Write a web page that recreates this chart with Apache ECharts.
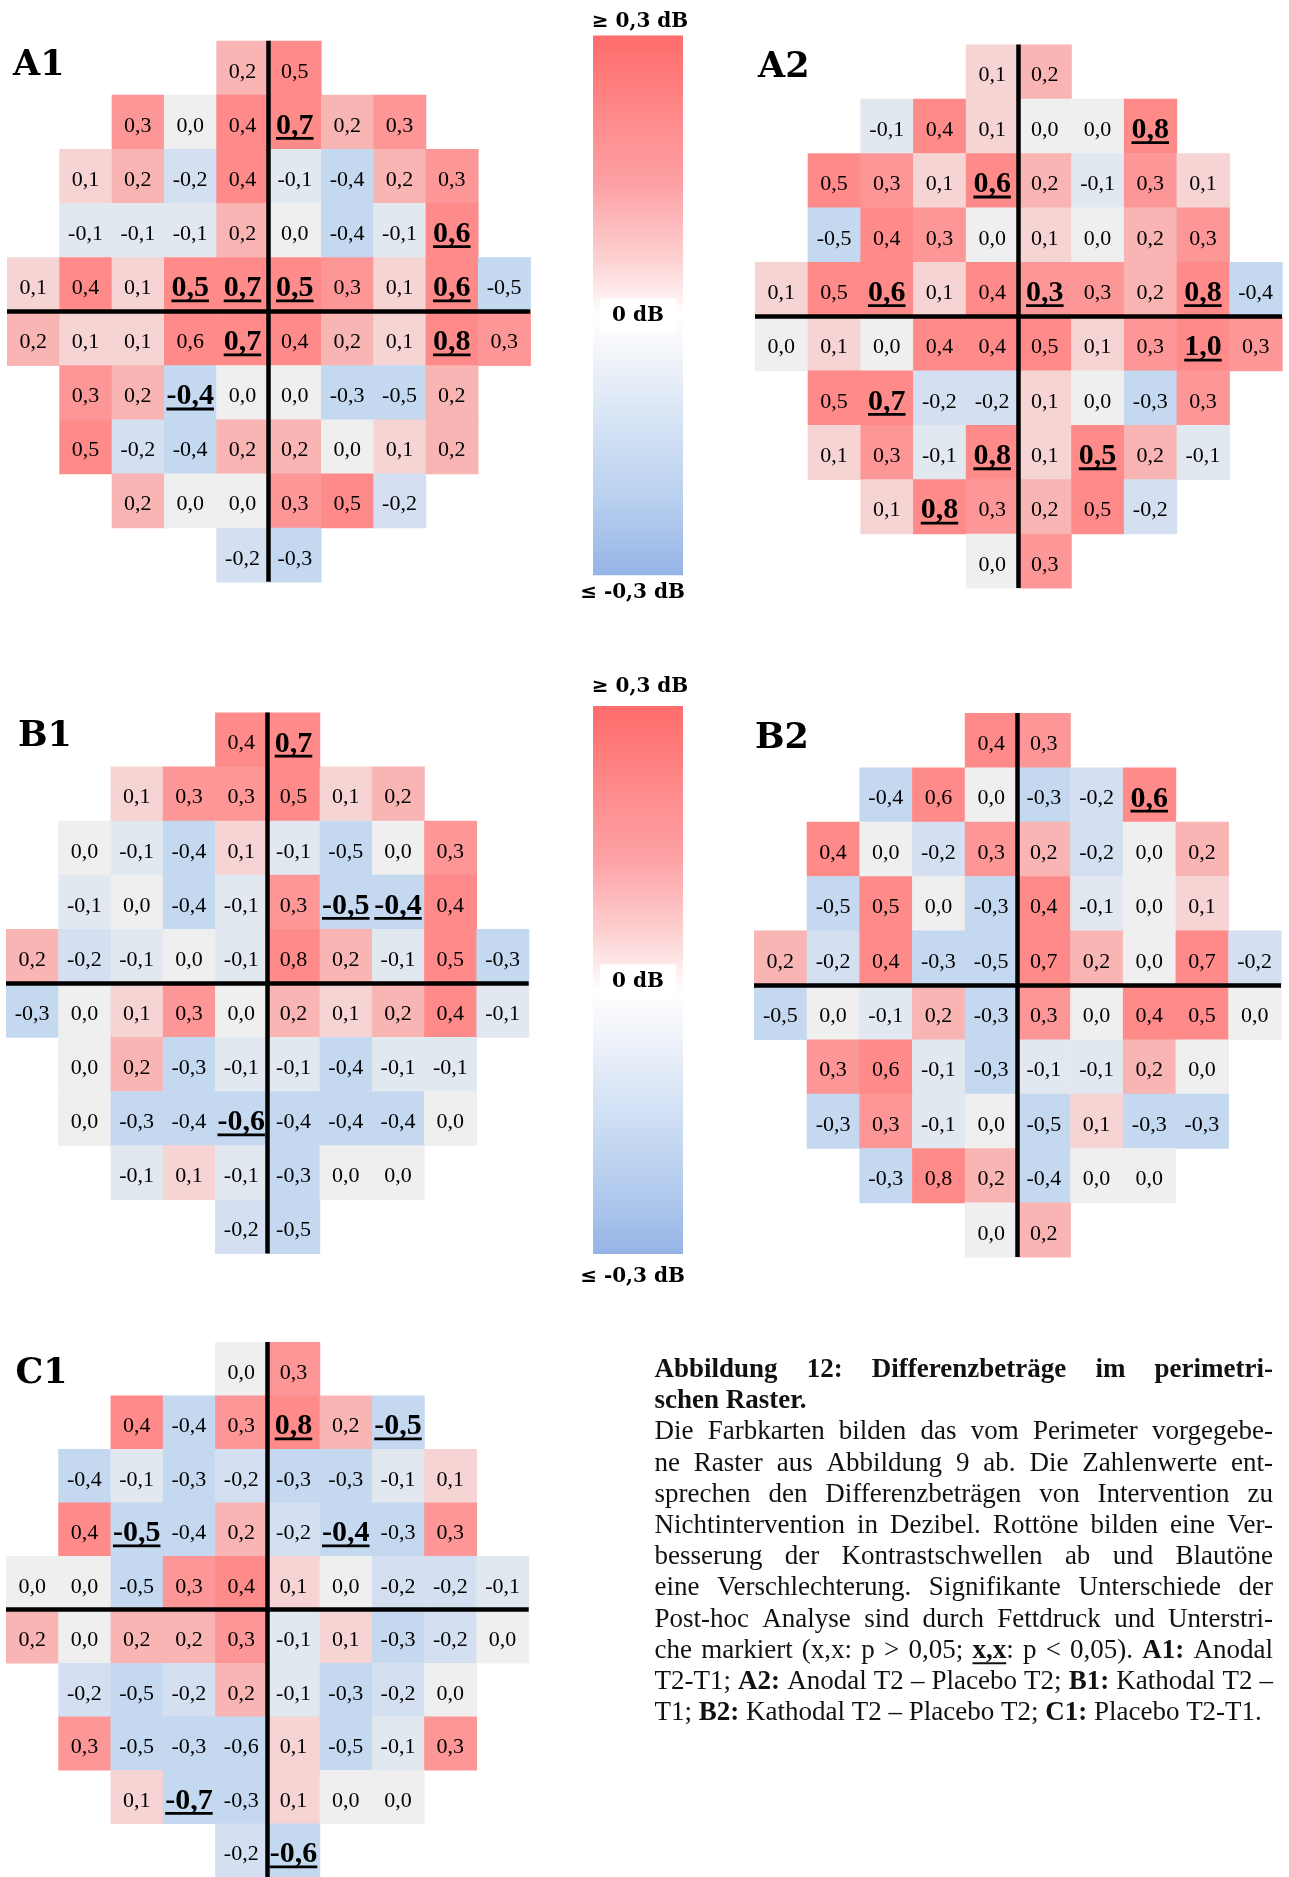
<!DOCTYPE html>
<html><head><meta charset="utf-8">
<script src="https://cdn.jsdelivr.net/npm/echarts@6/dist/echarts.min.js"></script>
<style>html,body{margin:0;padding:0;background:#fff}#main{width:1289px;height:1877px}</style>
</head><body><div id="main"></div>
<script>
// ---- grid shape: first column of each of the 10 rows of the perimetric raster
const rowStart = [4, 2, 1, 1, 0, 0, 1, 1, 2, 4];

// ---- values (dB), row by row, left to right
const A1 = [
  [0.2, 0.5],
  [0.3, 0.0, 0.4, 0.7, 0.2, 0.3],
  [0.1, 0.2, -0.2, 0.4, -0.1, -0.4, 0.2, 0.3],
  [-0.1, -0.1, -0.1, 0.2, 0.0, -0.4, -0.1, 0.6],
  [0.1, 0.4, 0.1, 0.5, 0.7, 0.5, 0.3, 0.1, 0.6, -0.5],
  [0.2, 0.1, 0.1, 0.6, 0.7, 0.4, 0.2, 0.1, 0.8, 0.3],
  [0.3, 0.2, -0.4, 0.0, 0.0, -0.3, -0.5, 0.2],
  [0.5, -0.2, -0.4, 0.2, 0.2, 0.0, 0.1, 0.2],
  [0.2, 0.0, 0.0, 0.3, 0.5, -0.2],
  [-0.2, -0.3]
];
const A2 = [
  [0.1, 0.2],
  [-0.1, 0.4, 0.1, 0.0, 0.0, 0.8],
  [0.5, 0.3, 0.1, 0.6, 0.2, -0.1, 0.3, 0.1],
  [-0.5, 0.4, 0.3, 0.0, 0.1, 0.0, 0.2, 0.3],
  [0.1, 0.5, 0.6, 0.1, 0.4, 0.3, 0.3, 0.2, 0.8, -0.4],
  [0.0, 0.1, 0.0, 0.4, 0.4, 0.5, 0.1, 0.3, 1.0, 0.3],
  [0.5, 0.7, -0.2, -0.2, 0.1, 0.0, -0.3, 0.3],
  [0.1, 0.3, -0.1, 0.8, 0.1, 0.5, 0.2, -0.1],
  [0.1, 0.8, 0.3, 0.2, 0.5, -0.2],
  [0.0, 0.3]
];
const B1 = [
  [0.4, 0.7],
  [0.1, 0.3, 0.3, 0.5, 0.1, 0.2],
  [0.0, -0.1, -0.4, 0.1, -0.1, -0.5, 0.0, 0.3],
  [-0.1, 0.0, -0.4, -0.1, 0.3, -0.5, -0.4, 0.4],
  [0.2, -0.2, -0.1, 0.0, -0.1, 0.8, 0.2, -0.1, 0.5, -0.3],
  [-0.3, 0.0, 0.1, 0.3, 0.0, 0.2, 0.1, 0.2, 0.4, -0.1],
  [0.0, 0.2, -0.3, -0.1, -0.1, -0.4, -0.1, -0.1],
  [0.0, -0.3, -0.4, -0.6, -0.4, -0.4, -0.4, 0.0],
  [-0.1, 0.1, -0.1, -0.3, 0.0, 0.0],
  [-0.2, -0.5]
];
const B2 = [
  [0.4, 0.3],
  [-0.4, 0.6, 0.0, -0.3, -0.2, 0.6],
  [0.4, 0.0, -0.2, 0.3, 0.2, -0.2, 0.0, 0.2],
  [-0.5, 0.5, 0.0, -0.3, 0.4, -0.1, 0.0, 0.1],
  [0.2, -0.2, 0.4, -0.3, -0.5, 0.7, 0.2, 0.0, 0.7, -0.2],
  [-0.5, 0.0, -0.1, 0.2, -0.3, 0.3, 0.0, 0.4, 0.5, 0.0],
  [0.3, 0.6, -0.1, -0.3, -0.1, -0.1, 0.2, 0.0],
  [-0.3, 0.3, -0.1, 0.0, -0.5, 0.1, -0.3, -0.3],
  [-0.3, 0.8, 0.2, -0.4, 0.0, 0.0],
  [0.0, 0.2]
];
const C1 = [
  [0.0, 0.3],
  [0.4, -0.4, 0.3, 0.8, 0.2, -0.5],
  [-0.4, -0.1, -0.3, -0.2, -0.3, -0.3, -0.1, 0.1],
  [0.4, -0.5, -0.4, 0.2, -0.2, -0.4, -0.3, 0.3],
  [0.0, 0.0, -0.5, 0.3, 0.4, 0.1, 0.0, -0.2, -0.2, -0.1],
  [0.2, 0.0, 0.2, 0.2, 0.3, -0.1, 0.1, -0.3, -0.2, 0.0],
  [-0.2, -0.5, -0.2, 0.2, -0.1, -0.3, -0.2, 0.0],
  [0.3, -0.5, -0.3, -0.6, 0.1, -0.5, -0.1, 0.3],
  [0.1, -0.7, -0.3, 0.1, 0.0, 0.0],
  [-0.2, -0.6]
];

// ---- significant cells (p < 0,05), as [row, column]
const A1_sig = [[1,5],[3,8],[4,3],[4,4],[4,5],[4,8],[5,4],[5,8],[6,3]];
const A2_sig = [[1,7],[2,4],[4,2],[4,5],[4,8],[5,8],[6,2],[7,4],[7,6],[8,3]];
const B1_sig = [[0,5],[3,6],[3,7],[7,4]];
const B2_sig = [[1,7]];
const C1_sig = [[1,5],[1,7],[3,2],[3,6],[8,3],[9,5]];

const panelNames = ['A1', 'A2', 'B1', 'B2', 'C1'];
const panelValues = [A1, A2, B1, B2, C1];
const panelSig = [A1_sig, A2_sig, B1_sig, B2_sig, C1_sig];

// colour-bar labels
const barLabels = ['≥ 0,3 dB', '0 dB', '≤ -0,3 dB'];

// caption (* = bold, _ = bold + underlined)
const captionLines = [
  '*Abbildung 12: Differenzbeträge im perimetri-*',
  '*schen Raster.*',
  'Die Farbkarten bilden das vom Perimeter vorgegebe-',
  'ne Raster aus Abbildung 9 ab. Die Zahlenwerte ent-',
  'sprechen den Differenzbeträgen von Intervention zu',
  'Nichtintervention in Dezibel. Rottöne bilden eine Ver-',
  'besserung der Kontrastschwellen ab und Blautöne',
  'eine Verschlechterung. Signifikante Unterschiede der',
  'Post-hoc Analyse sind durch Fettdruck und Unterstri-',
  'che markiert (x,x: p > 0,05; _x,x_: p < 0,05). *A1:* Anodal',
  'T2-T1; *A2:* Anodal T2 – Placebo T2; *B1:* Kathodal T2 –',
  'T1; *B2:* Kathodal T2 – Placebo T2; *C1:* Placebo T2-T1.'
];
const captionJustify = [true, false, true, true, true, true, true, true, true, true, true, false];

// ================= layout (pixels) =================
const gridBoxes = [
  {left: 7,   top: 40.7,  width: 523.3, height: 541.1},
  {left: 755, top: 44.5,  width: 527,   height: 543.5},
  {left: 6,   top: 712.5, width: 522.7, height: 541},
  {left: 754, top: 713,   width: 527,   height: 544},
  {left: 6,   top: 1342,  width: 522.7, height: 541}
];
const panelLabelPos = [[13, 65.5], [758, 68], [18, 737], [755, 739], [15.5, 1373.5]];

const measureCtx = document.createElement('canvas').getContext('2d');
function textWidth(t, weight, size, family) {
  measureCtx.font = weight + ' ' + size + 'px "' + family + '"';
  return measureCtx.measureText(t).width;
}

const CELL_FAMILY = 'Liberation Serif';
const CELL_SIZE = 22, SIG_SIZE = 30;

function fmt(v) { return v.toFixed(1).replace('.', ','); }

function buildData(rows, sig) {
  const data = [];
  rows.forEach((vals, r) => {
    vals.forEach((v, k) => {
      const c = rowStart[r] + k;
      const s = sig.some(p => p[0] === r && p[1] === c) ? 1 : 0;
      data.push([c, r, v, s]);
    });
  });
  return data;
}

function txtStyle(text, size, weight, family, fill, align) {
  return {text: text, fontSize: size, fontWeight: weight, fontFamily: family, fill: fill,
          align: align, verticalAlign: 'middle', textAlign: align, textVerticalAlign: 'middle'};
}

function renderCell(params, api) {
  const c = api.value(0), r = api.value(1), v = api.value(2), s = api.value(3);
  const p0 = api.coord([c, r]);
  const p1 = api.coord([c + 1, r + 1]);
  const x = p0[0], y = p0[1], w = p1[0] - p0[0], h = p1[1] - p0[1];
  const cx = x + w / 2, cy = y + h / 2;
  const label = fmt(v);
  const children = [{
    type: 'rect',
    shape: {x: x, y: y, width: w + 0.6, height: h + 0.6},
    style: {fill: api.visual('color')}
  }];
  if (s) {
    const tw = textWidth(label, 'bold', SIG_SIZE, CELL_FAMILY);
    children.push({type: 'text', x: cx, y: cy + 4.2,
      style: txtStyle(label, SIG_SIZE, 'bold', CELL_FAMILY, '#000', 'center')});
    children.push({type: 'rect',
      shape: {x: cx - tw / 2, y: cy + 15.2, width: tw, height: 2.8},
      style: {fill: '#000'}});
  } else {
    children.push({type: 'text', x: cx, y: cy + 4,
      style: txtStyle(label, CELL_SIZE, 'normal', CELL_FAMILY, '#000', 'center')});
  }
  return {type: 'group', children: children};
}

const grids = [], xAxes = [], yAxes = [], series = [];
panelValues.forEach((rows, i) => {
  grids.push(Object.assign({containLabel: false}, gridBoxes[i]));
  xAxes.push({type: 'value', gridIndex: i, min: 0, max: 10, show: false});
  yAxes.push({type: 'value', gridIndex: i, min: 0, max: 10, inverse: true, show: false});
  series.push({
    type: 'custom', name: panelNames[i],
    coordinateSystem: 'cartesian2d', xAxisIndex: i, yAxisIndex: i,
    data: buildData(rows, panelSig[i]),
    encode: {x: 0, y: 1},
    renderItem: renderCell,
    clip: false, silent: true, animation: false,
    markLine: {
      silent: true, symbol: ['none', 'none'], z: 10, animation: false,
      label: {show: false},
      lineStyle: {color: '#000', width: 4.5, type: 'solid'},
      emphasis: {disabled: true},
      data: [{xAxis: 5}, {yAxis: 5}]
    }
  });
});

// ================= graphic elements =================
const graphics = [];
panelNames.forEach((n, i) => {
  graphics.push({type: 'text', x: panelLabelPos[i][0], y: panelLabelPos[i][1],
    style: txtStyle(n, 35, 'bold', 'DejaVu Serif', '#000', 'left')});
});

// colour bars
const barStops = [
  {offset: 0, color: '#ff6c6c'},
  {offset: 0.12, color: '#ff8484'},
  {offset: 0.28, color: '#fda2a6'},
  {offset: 0.42, color: '#fdd3d3'},
  {offset: 0.52, color: '#ffffff'},
  {offset: 0.60, color: '#f0f3f9'},
  {offset: 0.72, color: '#d5e3f5'},
  {offset: 0.86, color: '#b8cfef'},
  {offset: 1, color: '#95b4e6'}
];
const bars = [
  {x: 593, y: 35.6, w: 90, h: 539.7, top: 22, mid: 315.3, bot: 593},
  {x: 593, y: 706,  w: 90, h: 548,   top: 686.5, mid: 981.6, bot: 1276.3}
];
bars.forEach(b => {
  graphics.push({type: 'rect', shape: {x: b.x, y: b.y, width: b.w, height: b.h},
    style: {fill: new echarts.graphic.LinearGradient(0, 0, 0, 1, barStops)}});
  graphics.push({type: 'rect', shape: {x: 600, y: b.mid - 17, width: 76, height: 34}, style: {fill: '#fff'}});
  [[barLabels[0], 640, b.top], [barLabels[1], 638, b.mid], [barLabels[2], 632.5, b.bot]].forEach(t => {
    graphics.push({type: 'text', x: t[1], y: t[2],
      style: txtStyle(t[0], 20, 'bold', 'DejaVu Serif', '#000', 'center')});
  });
});

// caption, justified word by word
const CAP_LEFT = 654.5, CAP_WIDTH = 618.5, CAP_TOP = 1370, CAP_STEP = 31.2, CAP_SIZE = 27;
const CAP_FAMILY = 'Liberation Serif';
function parseWords(line) {
  let bold = false, ul = false, buf = '', cur = [];
  const words = [];
  const flush = () => { if (buf) { cur.push({t: buf, b: bold || ul, u: ul}); buf = ''; } };
  for (const ch of line) {
    if (ch === '*') { flush(); bold = !bold; }
    else if (ch === '_') { flush(); ul = !ul; }
    else if (ch === ' ') { flush(); if (cur.length) words.push(cur); cur = []; }
    else buf += ch;
  }
  flush(); if (cur.length) words.push(cur);
  return words;
}
function segW(seg) { return textWidth(seg.t, seg.b ? 'bold' : 'normal', CAP_SIZE, CAP_FAMILY); }
captionLines.forEach((line, li) => {
  const words = parseWords(line);
  const widths = words.map(w => w.reduce((s, seg) => s + segW(seg), 0));
  const total = widths.reduce((a, b) => a + b, 0);
  const space = textWidth(' ', 'normal', CAP_SIZE, CAP_FAMILY);
  let gap = space, scale = 1;
  if (captionJustify[li] && words.length > 1) gap = (CAP_WIDTH - total) / (words.length - 1);
  if (gap < space * 0.6) { gap = space * 0.6; scale = CAP_WIDTH / (total + gap * (words.length - 1)); }
  const y = CAP_TOP + li * CAP_STEP;
  let x = CAP_LEFT;
  words.forEach(w => {
    w.forEach(seg => {
      const sw = segW(seg) * scale;
      graphics.push({type: 'text', x: x, y: y, scaleX: scale,
        style: txtStyle(seg.t, CAP_SIZE, seg.b ? 'bold' : 'normal', CAP_FAMILY, '#111', 'left')});
      if (seg.u) graphics.push({type: 'rect', shape: {x: x, y: y + 0.42 * CAP_SIZE, width: sw, height: 2},
        style: {fill: '#111'}});
      x += sw;
    });
    x += gap * scale;
  });
});

const chart = echarts.init(document.getElementById('main'), null, {renderer: 'canvas', width: 1289, height: 1877});
chart.setOption({
  backgroundColor: '#ffffff',
  animation: false,
  grid: grids,
  xAxis: xAxes,
  yAxis: yAxes,
  visualMap: {
    type: 'piecewise', show: false, dimension: 2, seriesIndex: [0, 1, 2, 3, 4],
    pieces: [
      {lte: -0.25, color: '#c4d8f0'},
      {gt: -0.25, lte: -0.15, color: '#d4e0f1'},
      {gt: -0.15, lte: -0.05, color: '#e2e8f0'},
      {gt: -0.05, lte: 0.05, color: '#efefef'},
      {gt: 0.05, lte: 0.15, color: '#f6d4d4'},
      {gt: 0.15, lte: 0.25, color: '#f9b4b4'},
      {gt: 0.25, lte: 0.35, color: '#fd9797'},
      {gt: 0.35, color: '#ff8a8a'}
    ]
  },
  series: series,
  graphic: {elements: graphics}
});
</script></body></html>
